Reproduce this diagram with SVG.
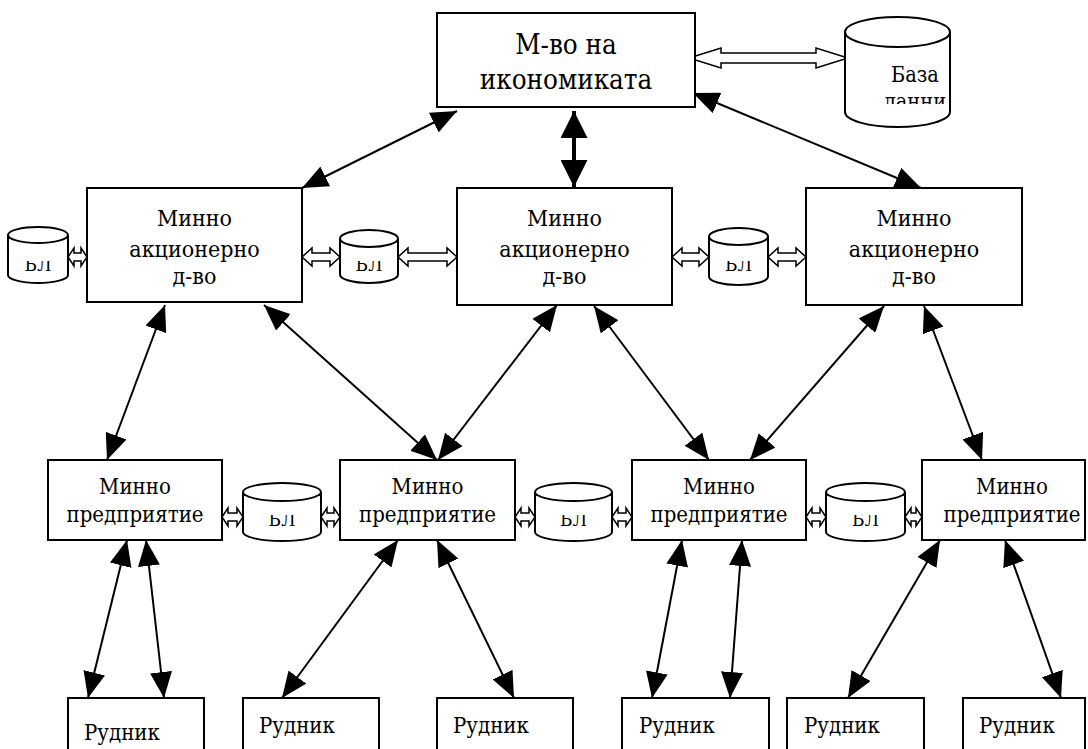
<svg xmlns="http://www.w3.org/2000/svg" width="1088" height="749" viewBox="0 0 1088 749">
<style>
.box{fill:#fff;stroke:#000;stroke-width:2}
.cyl{fill:#fff;stroke:#000;stroke-width:2}
text{font-family:"DejaVu Serif Condensed","DejaVu Serif",serif;font-stretch:condensed;font-size:22px;fill:#000}
.t{text-anchor:middle}
.big{font-size:27.5px}
.mid{font-size:23px}
.db{font-size:21.5px}
.bl{font-size:19px}
.hollow{fill:#fff;stroke:#000;stroke-width:1.5;stroke-linejoin:miter}
.thin{stroke:#000;stroke-width:2;fill:none;marker-start:url(#ah);marker-end:url(#ah)}
.thick{stroke:#000;stroke-width:4;fill:none;marker-start:url(#ahb);marker-end:url(#ahb)}
</style>
<defs>
<marker id="ah" markerUnits="userSpaceOnUse" markerWidth="26" markerHeight="22" refX="26" refY="11" orient="auto-start-reverse" viewBox="0 0 26 22"><path d="M0,0 L26,11 L0,22 Z" fill="#000"/></marker>
<marker id="ahb" markerUnits="userSpaceOnUse" markerWidth="27" markerHeight="27" refX="27" refY="13.5" orient="auto-start-reverse" viewBox="0 0 27 27"><path d="M0,0 L27,13.5 L0,27 Z" fill="#000"/></marker>
<clipPath id="dbclip"><rect x="845" y="17" width="105" height="87"/></clipPath>
<clipPath id="midclip"><rect x="0" y="261" width="1088" height="30"/></clipPath>
<clipPath id="botclip"><rect x="0" y="515" width="1088" height="30"/></clipPath>
</defs>
<rect width="1088" height="749" fill="#fff"/>

<g id="connectors">
<line class="thin" x1="457" y1="111" x2="302" y2="188"/>
<line class="thick" x1="574" y1="111" x2="574" y2="187"/>
<line class="thin" x1="693" y1="93" x2="921" y2="188"/>
<line class="thin" x1="165" y1="305" x2="107" y2="460"/>
<line class="thin" x1="264" y1="305" x2="437" y2="460"/>
<line class="thin" x1="557" y1="305" x2="438" y2="460"/>
<line class="thin" x1="594" y1="306" x2="709" y2="460"/>
<line class="thin" x1="884" y1="306" x2="750" y2="460"/>
<line class="thin" x1="924" y1="306" x2="982" y2="460"/>
<line class="thin" x1="127" y1="540" x2="88" y2="698"/>
<line class="thin" x1="146" y1="540" x2="164" y2="698"/>
<line class="thin" x1="398" y1="540" x2="282" y2="698"/>
<line class="thin" x1="437" y1="540" x2="514" y2="698"/>
<line class="thin" x1="682" y1="540" x2="652" y2="698"/>
<line class="thin" x1="742" y1="540" x2="730" y2="698"/>
<line class="thin" x1="940" y1="540" x2="848" y2="698"/>
<line class="thin" x1="1005" y1="540" x2="1061" y2="698"/>
<polygon class="hollow" points="689,58 721,48 721,53 816,53 816,48 848,58 816,68 816,63 721,63 721,68"/>
<polygon class="hollow" points="68,257 74,248 74,253 81,253 81,248 87,257 81,266 81,261 74,261 74,266"/>
<polygon class="hollow" points="302,257 312,248 312,253 330,253 330,248 340,257 330,266 330,261 312,261 312,266"/>
<polygon class="hollow" points="398,257 408,248 408,253 447,253 447,248 457,257 447,266 447,261 408,261 408,266"/>
<polygon class="hollow" points="672,257 682,248 682,253 699,253 699,248 709,257 699,266 699,261 682,261 682,266"/>
<polygon class="hollow" points="768,257 778,248 778,253 796,253 796,248 806,257 796,266 796,261 778,261 778,266"/>
<polygon class="hollow" points="222,517 228,508 228,513 237,513 237,508 243,517 237,526 237,521 228,521 228,526"/>
<polygon class="hollow" points="321,517 327,508 327,513 334,513 334,508 340,517 334,526 334,521 327,521 327,526"/>
<polygon class="hollow" points="515,517 521,508 521,513 529,513 529,508 535,517 529,526 529,521 521,521 521,526"/>
<polygon class="hollow" points="612,517 618,508 618,513 626,513 626,508 632,517 626,526 626,521 618,521 618,526"/>
<polygon class="hollow" points="806,517 812,508 812,513 820,513 820,508 826,517 820,526 820,521 812,521 812,526"/>
<polygon class="hollow" points="905,517 911,508 911,513 916,513 916,508 922,517 916,526 916,521 911,521 911,526"/>
</g>

<g id="ministry">
<rect class="box" x="437" y="13" width="258" height="94"/>
<text class="t big" x="566" y="54">М-во на</text>
<text class="t big" x="566" y="89">икономиката</text>
</g>

<g id="database">
<path class="cyl" d="M845,32 A52.5,15 0 0 1 950,32 V112 A52.5,15 0 0 1 845,112 Z M845,32 A52.5,15 0 0 0 950,32"/>
<g clip-path="url(#dbclip)">
<text class="t db" x="915" y="82">База</text>
<text class="t db" x="915" y="109">данни</text>
</g>
</g>

<g id="mad1">
<rect class="box" x="87" y="188" width="215" height="114"/>
<text class="t mid" x="194.5" y="226">Минно</text>
<text class="t mid" x="194.5" y="257">акционерно</text>
<text class="t mid" x="194.5" y="284">д-во</text>
</g>
<g id="mad2">
<rect class="box" x="457" y="188" width="215" height="117"/>
<text class="t mid" x="564.5" y="226">Минно</text>
<text class="t mid" x="564.5" y="257">акционерно</text>
<text class="t mid" x="564.5" y="284">д-во</text>
</g>
<g id="mad3">
<rect class="box" x="806" y="188" width="216" height="117"/>
<text class="t mid" x="914" y="226">Минно</text>
<text class="t mid" x="914" y="257">акционерно</text>
<text class="t mid" x="914" y="284">д-во</text>
</g>

<g id="blA">
<path class="cyl" d="M8,235 A30,8 0 0 1 68,235 V275 A30,8 0 0 1 8,275 Z M8,235 A30,8 0 0 0 68,235"/>
<text class="t bl" x="38" y="271" clip-path="url(#midclip)">БЛ</text>
</g>
<g id="blB">
<path class="cyl" d="M340,238.5 A29,8.5 0 0 1 398,238.5 V274.5 A29,8.5 0 0 1 340,274.5 Z M340,238.5 A29,8.5 0 0 0 398,238.5"/>
<text class="t bl" x="369" y="271" clip-path="url(#midclip)">БЛ</text>
</g>
<g id="blC">
<path class="cyl" d="M709,236.5 A29.5,8.5 0 0 1 768,236.5 V276.5 A29.5,8.5 0 0 1 709,276.5 Z M709,236.5 A29.5,8.5 0 0 0 768,236.5"/>
<text class="t bl" x="738.5" y="271" clip-path="url(#midclip)">БЛ</text>
</g>

<g id="mp1">
<rect class="box" x="48" y="460" width="174" height="80"/>
<text class="t" x="135" y="494">Минно</text>
<text class="t" x="135" y="522">предприятие</text>
</g>
<g id="mp2">
<rect class="box" x="340" y="460" width="175" height="80"/>
<text class="t" x="427.5" y="494">Минно</text>
<text class="t" x="427.5" y="522">предприятие</text>
</g>
<g id="mp3">
<rect class="box" x="632" y="460" width="174" height="80"/>
<text class="t" x="719" y="494">Минно</text>
<text class="t" x="719" y="522">предприятие</text>
</g>
<g id="mp4">
<rect class="box" x="922" y="460" width="163" height="80"/>
<text class="t" x="1012" y="494">Минно</text>
<text class="t" x="1012" y="522">предприятие</text>
</g>

<g id="blD">
<path class="cyl" d="M243,492 A39,9 0 0 1 321,492 V532 A39,9 0 0 1 243,532 Z M243,492 A39,9 0 0 0 321,492"/>
<text class="t bl" x="282" y="526" clip-path="url(#botclip)">БЛ</text>
</g>
<g id="blE">
<path class="cyl" d="M535,492 A38.5,9 0 0 1 612,492 V532 A38.5,9 0 0 1 535,532 Z M535,492 A38.5,9 0 0 0 612,492"/>
<text class="t bl" x="573.5" y="526" clip-path="url(#botclip)">БЛ</text>
</g>
<g id="blF">
<path class="cyl" d="M826,492 A39.5,9 0 0 1 905,492 V532 A39.5,9 0 0 1 826,532 Z M826,492 A39.5,9 0 0 0 905,492"/>
<text class="t bl" x="865.5" y="526" clip-path="url(#botclip)">БЛ</text>
</g>

<g id="r1"><rect class="box" x="68" y="698" width="136" height="70"/><text x="84" y="740">Рудник</text></g>
<g id="r2"><rect class="box" x="243" y="698" width="136" height="70"/><text x="259" y="733">Рудник</text></g>
<g id="r3"><rect class="box" x="437" y="698" width="136" height="70"/><text x="453" y="733">Рудник</text></g>
<g id="r4"><rect class="box" x="622" y="698" width="147" height="70"/><text x="639" y="733">Рудник</text></g>
<g id="r5"><rect class="box" x="787" y="698" width="137" height="70"/><text x="804" y="733">Рудник</text></g>
<g id="r6"><rect class="box" x="963" y="698" width="122" height="70"/><text x="979" y="733">Рудник</text></g>
</svg>
